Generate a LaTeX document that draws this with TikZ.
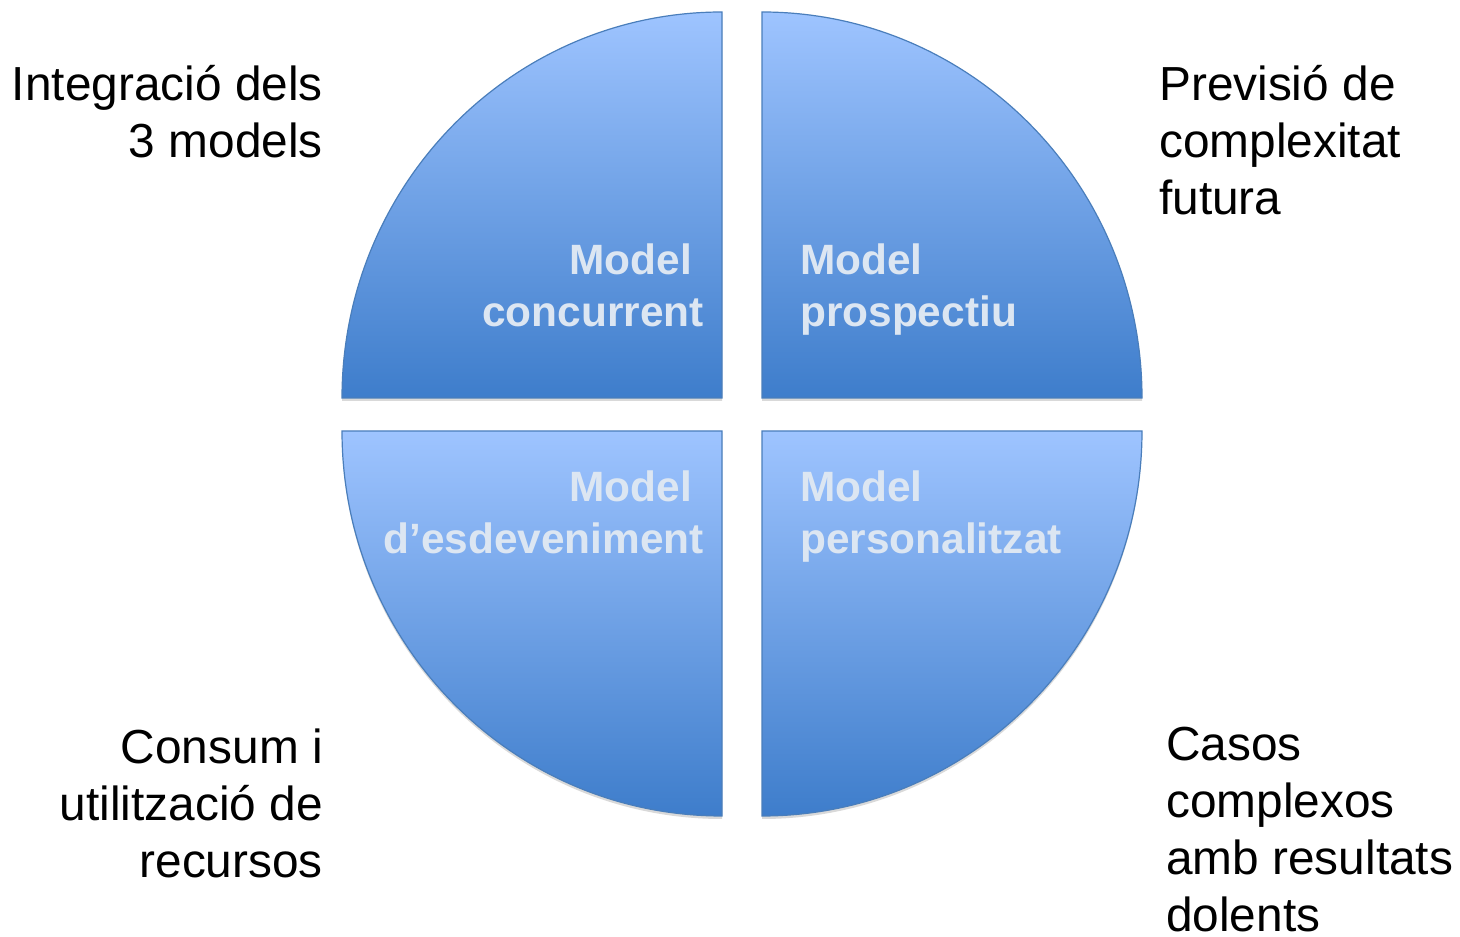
\documentclass[tikz,border=0pt]{standalone}
\usepackage{fontspec}
\setmainfont{Liberation Sans}
\usetikzlibrary{shadows}
\definecolor{topc}{RGB}{158,196,255}
\definecolor{botc}{RGB}{62,125,203}
\definecolor{edgec}{RGB}{74,126,187}
\definecolor{labc}{RGB}{220,230,242}
\tikzset{
  sector/.style={draw=edgec, line width=1.2pt, top color=topc, bottom color=botc,
    drop shadow={shadow xshift=0pt, shadow yshift=-3pt, opacity=.25, fill=black!60}},
  seclab/.style={inner sep=0pt, text=labc, font=\bfseries\fontsize{42.4}{52}\selectfont},
  outlab/.style={inner sep=0pt, text=black, font=\fontsize{47.8}{57}\selectfont}
}
\begin{document}
\begin{tikzpicture}[x=1pt,y=1pt]
\useasboundingbox (0,0) rectangle (1460,937);
% sectors
\coordinate (ctl) at (722,539);
\coordinate (ctr) at (762,539);
\coordinate (cbl) at (722,506);
\coordinate (cbr) at (762,506);
\path[sector] (ctl) -- ++(-380,0) arc[start angle=180, end angle=90, x radius=380, y radius=386] -- cycle;
\path[sector] (ctr) -- ++(380,0) arc[start angle=0, end angle=90, x radius=380, y radius=386] -- cycle;
\path[sector] (cbl) -- ++(-380,0) arc[start angle=180, end angle=270, x radius=380, y radius=385] -- cycle;
\path[sector] (cbr) -- ++(380,0) arc[start angle=0, end angle=-90, x radius=380, y radius=385] -- cycle;
% sector labels (anchor = baseline of last line)
\node[seclab, anchor=base east, align=right] (lconc) at (704,610) {Model\kern.278em\\concurrent};
\node[seclab, anchor=base west, align=left] (lprosp) at (800,610) {Model\\prospectiu};
\node[seclab, anchor=base east, align=right] (lesd) at (704,383) {Model\kern.278em\\d’esdeveniment};
\node[seclab, anchor=base west, align=left] (lpers) at (800,383) {Model\\personalitzat};
% outer labels
\node[outlab, anchor=base east, align=right] (tint) at (323,779) {Integració dels\\3 models};
\node[outlab, anchor=base west, align=left] (tprev) at (1159,722) {Previsió de\\complexitat\\futura};
\node[outlab, anchor=base east, align=right] (tcons) at (323,59) {Consum i\\utilització de\\recursos};
\node[outlab, anchor=base west, align=left] (tcas) at (1166,5) {Casos\\complexos\\amb resultats\\dolents};
\end{tikzpicture}
\end{document}
